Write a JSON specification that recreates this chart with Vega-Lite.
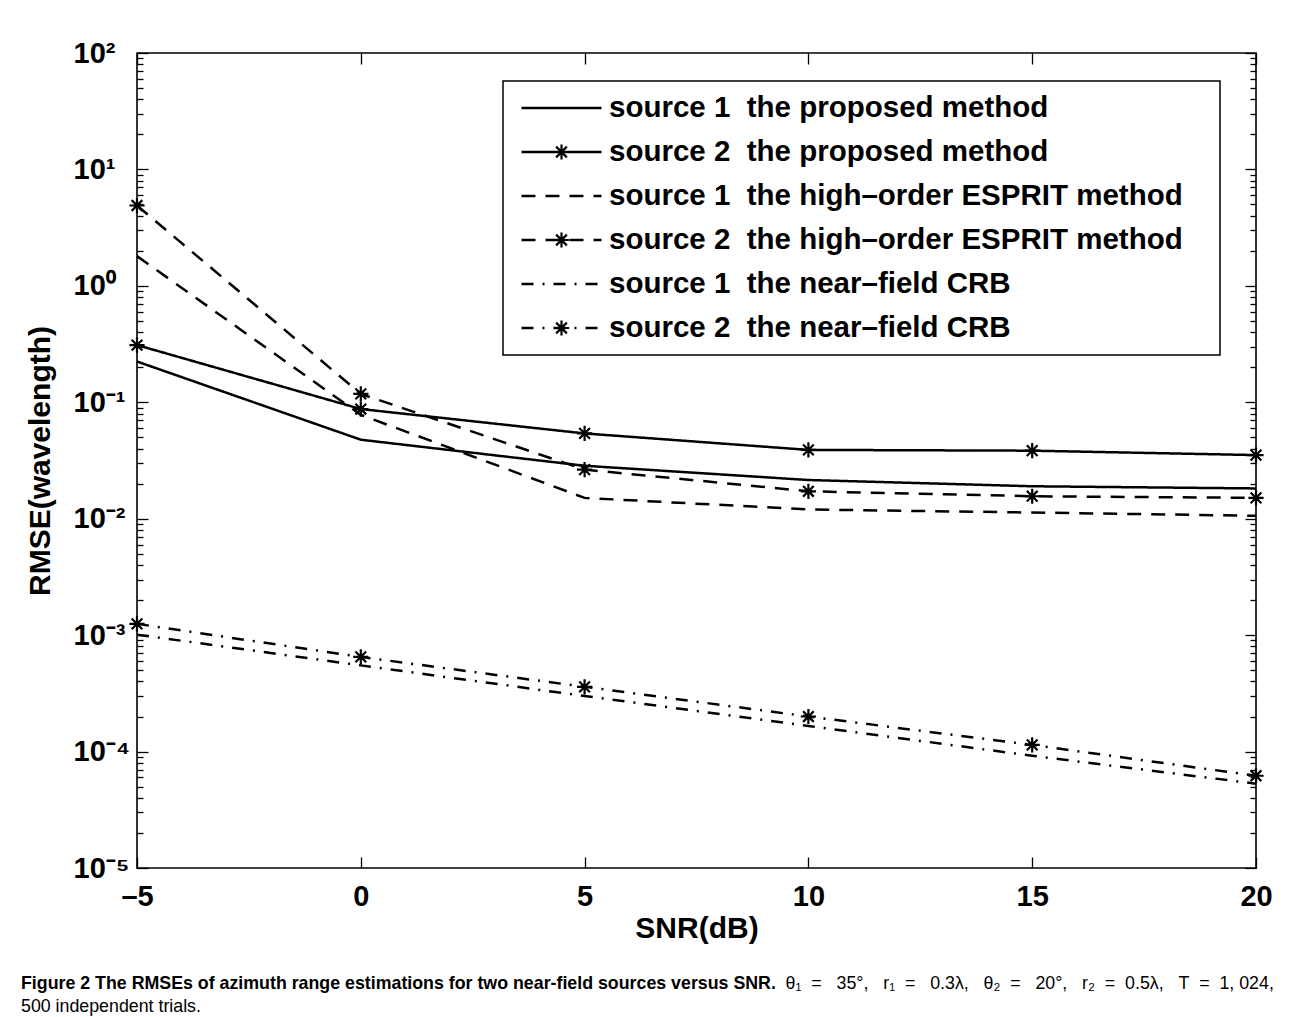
{
  "$schema": "https://vega.github.io/schema/vega-lite/v6.json",
  "autosize": {"type": "none"},
  "padding": {"left": 137, "top": 53, "right": 38, "bottom": 149},
  "width": 1119,
  "height": 815,
  "background": "white",
  "title": {
    "text": "Figure 2 The RMSEs of azimuth range estimations for two near-field sources versus SNR.",
    "subtitle": ["\u200b\u2003\u2003\u2003\u2003\u2003\u2003\u2003\u2003\u2003\u2003\u2003\u2003\u2003\u2003\u2003\u2003\u2003\u2003\u2003\u2003\u2003\u2003\u2003\u2003\u2003\u2003\u2003\u2003\u2003\u2003\u2003\u2003\u2003\u2003\u2003\u2003\u2003\u2003\u2003\u2003\u2003\u2003\u2003θ₁\u00a0 =\u00a0\u00a0 35°,\u00a0\u00a0 r₁\u00a0 =\u00a0\u00a0 0.3λ,\u00a0\u00a0 θ₂\u00a0 =\u00a0\u00a0 20°,\u00a0\u00a0 r₂\u00a0 =\u00a0 0.5λ,\u00a0\u00a0 T\u00a0 =\u00a0 1, 024,", "500 independent trials."],
    "orient": "bottom",
    "anchor": "start",
    "frame": "group",
    "dx": -116,
    "offset": 32,
    "font": "Liberation Sans",
    "fontSize": 17.8,
    "fontWeight": "bold",
    "color": "black",
    "subtitleFont": "Liberation Sans",
    "subtitleFontSize": 17.8,
    "subtitleFontWeight": "normal",
    "subtitleColor": "black",
    "subtitlePadding": -17.8,
    "subtitleLineHeight": 23
  },
  "datasets": {
    "rmse": [
      {"snr": -5, "rmse": 0.224, "series": "source 1\u00a0 the proposed method"},
      {"snr": 0, "rmse": 0.0477, "series": "source 1\u00a0 the proposed method"},
      {"snr": 5, "rmse": 0.0285, "series": "source 1\u00a0 the proposed method"},
      {"snr": 10, "rmse": 0.0215, "series": "source 1\u00a0 the proposed method"},
      {"snr": 15, "rmse": 0.019, "series": "source 1\u00a0 the proposed method"},
      {"snr": 20, "rmse": 0.0182, "series": "source 1\u00a0 the proposed method"},
      {"snr": -5, "rmse": 0.31, "series": "source 2\u00a0 the proposed method"},
      {"snr": 0, "rmse": 0.0875, "series": "source 2\u00a0 the proposed method"},
      {"snr": 5, "rmse": 0.054, "series": "source 2\u00a0 the proposed method"},
      {"snr": 10, "rmse": 0.039, "series": "source 2\u00a0 the proposed method"},
      {"snr": 15, "rmse": 0.0384, "series": "source 2\u00a0 the proposed method"},
      {"snr": 20, "rmse": 0.0352, "series": "source 2\u00a0 the proposed method"},
      {"snr": -5, "rmse": 1.8, "series": "source 1\u00a0 the high\u2013order ESPRIT method"},
      {"snr": 0, "rmse": 0.078, "series": "source 1\u00a0 the high\u2013order ESPRIT method"},
      {"snr": 5, "rmse": 0.0151, "series": "source 1\u00a0 the high\u2013order ESPRIT method"},
      {"snr": 10, "rmse": 0.012, "series": "source 1\u00a0 the high\u2013order ESPRIT method"},
      {"snr": 15, "rmse": 0.0113, "series": "source 1\u00a0 the high\u2013order ESPRIT method"},
      {"snr": 20, "rmse": 0.0106, "series": "source 1\u00a0 the high\u2013order ESPRIT method"},
      {"snr": -5, "rmse": 4.9, "series": "source 2\u00a0 the high\u2013order ESPRIT method"},
      {"snr": 0, "rmse": 0.118, "series": "source 2\u00a0 the high\u2013order ESPRIT method"},
      {"snr": 5, "rmse": 0.0264, "series": "source 2\u00a0 the high\u2013order ESPRIT method"},
      {"snr": 10, "rmse": 0.0172, "series": "source 2\u00a0 the high\u2013order ESPRIT method"},
      {"snr": 15, "rmse": 0.0156, "series": "source 2\u00a0 the high\u2013order ESPRIT method"},
      {"snr": 20, "rmse": 0.0151, "series": "source 2\u00a0 the high\u2013order ESPRIT method"},
      {"snr": -5, "rmse": 0.00101, "series": "source 1\u00a0 the near\u2013field CRB"},
      {"snr": 0, "rmse": 0.00055, "series": "source 1\u00a0 the near\u2013field CRB"},
      {"snr": 5, "rmse": 0.0003, "series": "source 1\u00a0 the near\u2013field CRB"},
      {"snr": 10, "rmse": 0.000166, "series": "source 1\u00a0 the near\u2013field CRB"},
      {"snr": 15, "rmse": 0.000092, "series": "source 1\u00a0 the near\u2013field CRB"},
      {"snr": 20, "rmse": 0.000053, "series": "source 1\u00a0 the near\u2013field CRB"},
      {"snr": -5, "rmse": 0.00125, "series": "source 2\u00a0 the near\u2013field CRB"},
      {"snr": 0, "rmse": 0.00065, "series": "source 2\u00a0 the near\u2013field CRB"},
      {"snr": 5, "rmse": 0.00036, "series": "source 2\u00a0 the near\u2013field CRB"},
      {"snr": 10, "rmse": 0.0002, "series": "source 2\u00a0 the near\u2013field CRB"},
      {"snr": 15, "rmse": 0.000114, "series": "source 2\u00a0 the near\u2013field CRB"},
      {"snr": 20, "rmse": 0.000062, "series": "source 2\u00a0 the near\u2013field CRB"}
    ]
  },
  "data": {"name": "rmse"},
  "layer": [
    {
      "mark": {"type": "line", "color": "black", "strokeWidth": 2.5, "strokeCap": "butt", "strokeJoin": "miter"},
      "encoding": {
        "x": {
          "field": "snr", "type": "quantitative",
          "scale": {"domain": [-5, 20], "nice": false, "zero": false},
          "axis": {
            "orient": "bottom", "title": "SNR(dB)", "values": [-5, 0, 5, 10, 15, 20],
            "labelExpr": "datum.value < 0 ? '\u2013' + abs(datum.value) : '' + datum.value",
            "tickSize": -11, "tickColor": "black", "tickWidth": 1.3,
            "domain": false, "grid": false,
            "labelFont": "Liberation Sans", "labelFontSize": 29, "labelFontWeight": "bold", "labelColor": "black",
            "labelPadding": 25, "labelFlush": false, "labelOverlap": false, "labelBound": false,
            "titleFont": "Liberation Sans", "titleFontSize": 30, "titleFontWeight": "bold", "titleColor": "black",
            "titlePadding": 2
          }
        },
        "y": {
          "field": "rmse", "type": "quantitative",
          "scale": {"type": "log", "domain": [0.00001, 100], "nice": false},
          "axis": {
            "orient": "left", "title": "RMSE(wavelength)",
            "values": [0.00001, 0.00002, 0.00003, 0.00004, 0.00005, 0.00006, 0.00007, 0.00008, 0.00009, 0.0001, 0.0002, 0.0003, 0.0004, 0.0005, 0.0006, 0.0007, 0.0008, 0.0009, 0.001, 0.002, 0.003, 0.004, 0.005, 0.006, 0.007, 0.008, 0.009, 0.01, 0.02, 0.03, 0.04, 0.05, 0.06, 0.07, 0.08, 0.09, 0.1, 0.2, 0.3, 0.4, 0.5, 0.6, 0.7, 0.8, 0.9, 1, 2, 3, 4, 5, 6, 7, 8, 9, 10, 20, 30, 40, 50, 60, 70, 80, 90, 100],
            "labelExpr": "abs(log(datum.value)/LN10 - round(log(datum.value)/LN10)) < 0.001 ? ['10\u207b\u2075','10\u207b\u2074','10\u207b\u00b3','10\u207b\u00b2','10\u207b\u00b9','10\u2070','10\u00b9','10\u00b2'][round(log(datum.value)/LN10)+5] : ''",
            "tickSize": {"condition": {"test": "abs(log(datum.value)/LN10 - round(log(datum.value)/LN10)) < 0.001", "value": -11}, "value": -6},
            "tickColor": "black", "tickWidth": 1.3,
            "domain": false, "grid": false,
            "labelFont": "Liberation Sans", "labelFontSize": 29, "labelFontWeight": "bold", "labelColor": "black",
            "labelAlign": "left", "labelBaseline": "middle",
            "labelPadding": 75, "labelFlush": false, "labelOverlap": false, "labelBound": false,
            "titleFont": "Liberation Sans", "titleFontSize": 30, "titleFontWeight": "bold", "titleColor": "black",
            "titlePadding": 13
          }
        },
        "strokeDash": {
          "field": "series", "type": "nominal",
          "sort": ["source 1\u00a0 the proposed method", "source 2\u00a0 the proposed method", "source 1\u00a0 the high\u2013order ESPRIT method", "source 2\u00a0 the high\u2013order ESPRIT method", "source 1\u00a0 the near\u2013field CRB", "source 2\u00a0 the near\u2013field CRB"],
          "scale": {"range": [[1, 0], [1, 0], [14, 10], [14, 10], [12, 9, 2, 9], [12, 9, 2, 9]]},
          "legend": {
            "orient": "none", "legendX": 366, "legendY": 28, "direction": "vertical",
            "title": null,
            "symbolType": "stroke", "symbolSize": 6400, "symbolStrokeWidth": 2.5, "symbolStrokeColor": "black",
            "symbolOffset": 5,
            "labelFont": "Liberation Sans", "labelFontSize": 29.5, "labelFontWeight": "bold", "labelColor": "black",
            "labelOffset": 6, "labelLimit": 2000,
            "labelExpr": "datum.label + '\u00a0\u00a0\u00a0\u200b'",
            "rowPadding": 14, "padding": 12, "clipHeight": 30,
            "strokeColor": "black",
            "encode": {"legend": {"update": {"strokeWidth": {"value": 1.5}}}}
          }
        }
      }
    },
    {
      "transform": [{"filter": "indexof(datum.series, 'source 2') == 0"}],
      "mark": {"type": "point", "filled": false, "color": "black", "strokeWidth": 2.2, "size": 6400, "opacity": 1},
      "encoding": {
        "x": {
          "field": "snr", "type": "quantitative",
          "axis": {
            "orient": "top", "title": null, "labels": false, "values": [-5, 0, 5, 10, 15, 20],
            "tickSize": -11, "tickColor": "black", "tickWidth": 1.3, "domain": false, "grid": false
          }
        },
        "y": {
          "field": "rmse", "type": "quantitative",
          "axis": {
            "orient": "right", "title": null, "labels": false,
            "values": [0.00001, 0.00002, 0.00003, 0.00004, 0.00005, 0.00006, 0.00007, 0.00008, 0.00009, 0.0001, 0.0002, 0.0003, 0.0004, 0.0005, 0.0006, 0.0007, 0.0008, 0.0009, 0.001, 0.002, 0.003, 0.004, 0.005, 0.006, 0.007, 0.008, 0.009, 0.01, 0.02, 0.03, 0.04, 0.05, 0.06, 0.07, 0.08, 0.09, 0.1, 0.2, 0.3, 0.4, 0.5, 0.6, 0.7, 0.8, 0.9, 1, 2, 3, 4, 5, 6, 7, 8, 9, 10, 20, 30, 40, 50, 60, 70, 80, 90, 100],
            "tickSize": {"condition": {"test": "abs(log(datum.value)/LN10 - round(log(datum.value)/LN10)) < 0.001", "value": -11}, "value": -6},
            "tickColor": "black", "tickWidth": 1.3, "domain": false, "grid": false
          }
        },
        "shape": {
          "field": "series", "type": "nominal",
          "scale": {
            "domain": ["source 1\u00a0 the proposed method", "source 2\u00a0 the proposed method", "source 1\u00a0 the high\u2013order ESPRIT method", "source 2\u00a0 the high\u2013order ESPRIT method", "source 1\u00a0 the near\u2013field CRB", "source 2\u00a0 the near\u2013field CRB"],
            "range": ["M0,0", "M0,-0.19L0,0.19M-0.19,0L0.19,0M-0.134,-0.134L0.134,0.134M-0.134,0.134L0.134,-0.134", "M0,0", "M0,-0.19L0,0.19M-0.19,0L0.19,0M-0.134,-0.134L0.134,0.134M-0.134,0.134L0.134,-0.134", "M0,0", "M0,-0.19L0,0.19M-0.19,0L0.19,0M-0.134,-0.134L0.134,0.134M-0.134,0.134L0.134,-0.134"]
          },
          "legend": {
            "orient": "none", "legendX": 366, "legendY": 28, "direction": "vertical",
            "title": null,
            "symbolSize": 6400, "symbolStrokeWidth": 2.2, "symbolStrokeColor": "black", "symbolFillColor": "transparent",
            "symbolOffset": 5,
            "labelFont": "Liberation Sans", "labelFontSize": 29.5, "labelFontWeight": "bold", "labelColor": "black", "labelOpacity": 0,
            "labelOffset": 6, "labelLimit": 2000,
            "labelExpr": "datum.label + '\u00a0\u00a0\u00a0\u200b'",
            "rowPadding": 14, "padding": 12, "clipHeight": 30
          }
        }
      }
    }
  ],
  "resolve": {"axis": {"x": "independent", "y": "independent"}},
  "config": {
    "font": "Liberation Sans",
    "view": {"stroke": "black", "strokeWidth": 1.6}
  }
}
